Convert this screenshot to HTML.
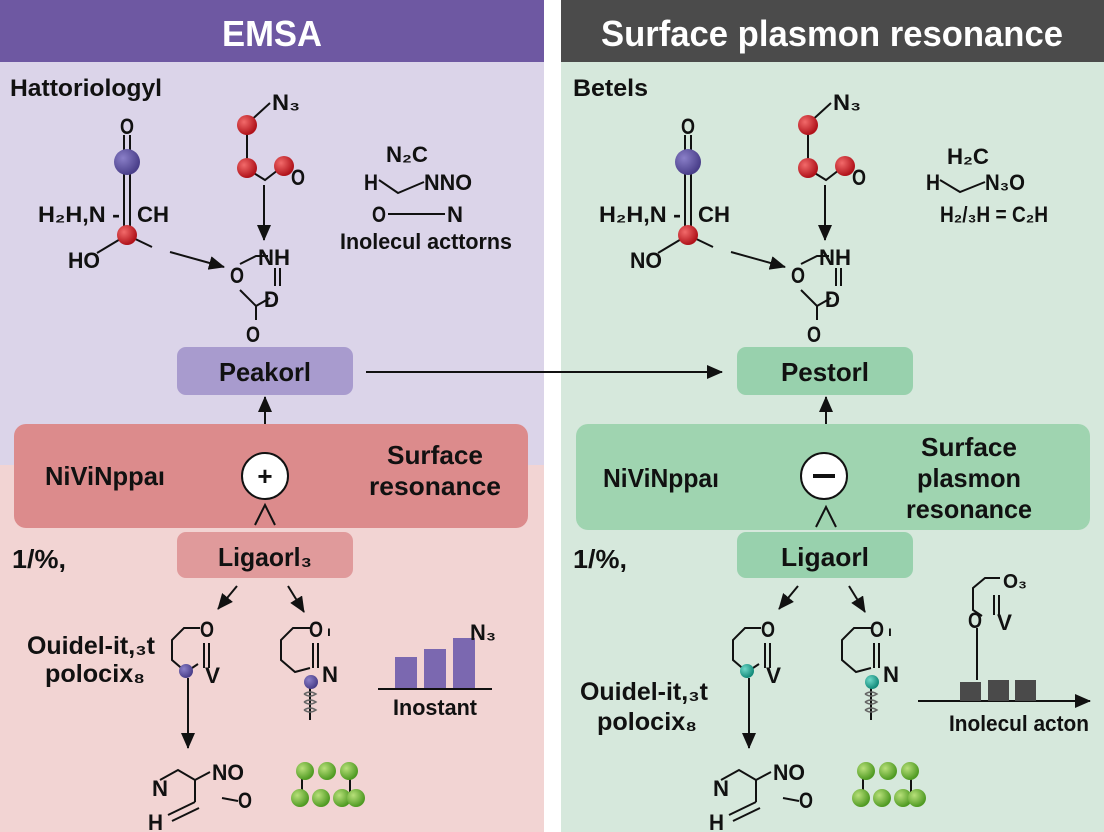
<!DOCTYPE html>
<html><head><meta charset="utf-8"><style>
html,body{margin:0;padding:0;width:1104px;height:832px;overflow:hidden;background:#fff}
svg{display:block}
text{font-family:"Liberation Sans",sans-serif;font-weight:bold;fill:#111}
</style></head><body>
<svg width="1104" height="832" viewBox="0 0 1104 832" xmlns="http://www.w3.org/2000/svg">
<defs>
<marker id="ah" markerWidth="16" markerHeight="14" refX="15" refY="7" orient="auto" markerUnits="userSpaceOnUse"><path d="M0,0 L16,7 L0,14 z" fill="#111"/></marker>
<radialGradient id="red" cx="35%" cy="35%" r="65%"><stop offset="0" stop-color="#f26a6a"/><stop offset="1" stop-color="#b0121a"/></radialGradient>
<radialGradient id="pur" cx="35%" cy="35%" r="65%"><stop offset="0" stop-color="#8a7fc8"/><stop offset="1" stop-color="#4a3f8a"/></radialGradient>
<radialGradient id="tea" cx="35%" cy="35%" r="65%"><stop offset="0" stop-color="#6fd8c8"/><stop offset="1" stop-color="#138a7a"/></radialGradient>
<radialGradient id="grn" cx="35%" cy="35%" r="65%"><stop offset="0" stop-color="#b8e07a"/><stop offset="1" stop-color="#4f9a22"/></radialGradient>
</defs>

<rect x="0" y="0" width="544" height="465" fill="#dbd4e9"/>
<rect x="0" y="465" width="544" height="367" fill="#f2d4d3"/>
<rect x="561" y="0" width="543" height="832" fill="#d6e8dc"/>
<rect x="0" y="0" width="544" height="62" fill="#6e58a2"/>
<rect x="561" y="0" width="543" height="62" fill="#4b4b4b"/>
<text x="272" y="46" text-anchor="middle" font-size="36" style="fill:#fff" textLength="100" lengthAdjust="spacingAndGlyphs">EMSA</text>
<text x="832" y="46" text-anchor="middle" font-size="36" style="fill:#fff" textLength="462" lengthAdjust="spacingAndGlyphs">Surface plasmon resonance</text>

<g id="tc">
<g stroke="#111" stroke-width="2" fill="none">
<line x1="124" y1="135" x2="124" y2="232"/><line x1="130" y1="135" x2="130" y2="232"/>
<line x1="127" y1="235" x2="97" y2="253"/><line x1="127" y1="235" x2="152" y2="247"/>
<line x1="247" y1="124" x2="270" y2="103"/><line x1="247" y1="124" x2="247" y2="168"/>
<polyline points="252,172 265,180 278,170"/>
<line x1="264" y1="185" x2="264" y2="240" marker-end="url(#ah)"/>
<line x1="170" y1="252" x2="224" y2="267" marker-end="url(#ah)"/>
<polyline points="240,264 256,256 268,256"/><line x1="275" y1="268" x2="275" y2="286"/><line x1="280" y1="268" x2="280" y2="286"/>
<polyline points="240,290 256,306 270,298"/><line x1="256" y1="306" x2="256" y2="320"/>
</g>
<circle cx="127" cy="162" r="13" fill="url(#pur)"/>
<circle cx="127" cy="235" r="10" fill="url(#red)"/>
<circle cx="247" cy="125" r="10" fill="url(#red)"/>
<circle cx="247" cy="168" r="10" fill="url(#red)"/>
<circle cx="284" cy="166" r="10" fill="url(#red)"/>
<text x="120" y="134" font-size="22" textLength="14" lengthAdjust="spacingAndGlyphs">O</text>
<text x="38" y="222" font-size="22" textLength="82" lengthAdjust="spacingAndGlyphs">H₂H,N -</text>
<text x="137" y="222" font-size="22" textLength="32" lengthAdjust="spacingAndGlyphs">CH</text>
<text x="272" y="110" font-size="22" textLength="28" lengthAdjust="spacingAndGlyphs">N₃</text>
<text x="291" y="185" font-size="22" textLength="14" lengthAdjust="spacingAndGlyphs">O</text>
<text x="258" y="265" font-size="22" textLength="32" lengthAdjust="spacingAndGlyphs">NH</text>
<text x="230" y="283" font-size="22" textLength="14" lengthAdjust="spacingAndGlyphs">O</text>
<text x="264" y="307" font-size="22" textLength="15" lengthAdjust="spacingAndGlyphs">D</text>
<text x="246" y="342" font-size="22" textLength="14" lengthAdjust="spacingAndGlyphs">O</text>
</g>
<text x="10" y="96" font-size="24" textLength="152" lengthAdjust="spacingAndGlyphs">Hattoriologyl</text>
<text x="68" y="268" font-size="22" textLength="32" lengthAdjust="spacingAndGlyphs">HO</text>
<text x="386" y="162" font-size="22" textLength="42" lengthAdjust="spacingAndGlyphs">N₂C</text>
<text x="364" y="190" font-size="22" textLength="14" lengthAdjust="spacingAndGlyphs">H</text>
<text x="424" y="190" font-size="22" textLength="48" lengthAdjust="spacingAndGlyphs">NNO</text>
<text x="372" y="222" font-size="22" textLength="14" lengthAdjust="spacingAndGlyphs">O</text>
<text x="447" y="222" font-size="22" textLength="16" lengthAdjust="spacingAndGlyphs">N</text>
<text x="340" y="249" font-size="22" textLength="172" lengthAdjust="spacingAndGlyphs">Inolecul acttorns</text>
<g stroke="#111" stroke-width="2" fill="none">
<polyline points="379,180 398,193 424,182"/>
<line x1="388" y1="214" x2="445" y2="214"/>
</g>

<rect x="177" y="347" width="176" height="48" rx="9" fill="#a89bce"/>
<text x="265" y="381" text-anchor="middle" font-size="26" textLength="92" lengthAdjust="spacingAndGlyphs">Peakorl</text>
<line x1="366" y1="372" x2="722" y2="372" stroke="#111" stroke-width="2" marker-end="url(#ah)"/>
<line x1="265" y1="440" x2="265" y2="397" stroke="#111" stroke-width="2" marker-end="url(#ah)"/>
<rect x="14" y="424" width="514" height="104" rx="12" fill="#dc8b8c"/>
<text x="45" y="485" font-size="26" textLength="120" lengthAdjust="spacingAndGlyphs">NiViNppaı</text>
<circle cx="265" cy="476" r="23" fill="#fff" stroke="#111" stroke-width="2"/>
<text x="265" y="485" text-anchor="middle" font-size="26">+</text>
<text x="435" y="464" text-anchor="middle" font-size="26" textLength="96" lengthAdjust="spacingAndGlyphs">Surface</text>
<text x="435" y="495" text-anchor="middle" font-size="26" textLength="132" lengthAdjust="spacingAndGlyphs">resonance</text>
<polyline points="255,525 265,505 275,525" stroke="#111" stroke-width="2" fill="none"/>
<rect x="177" y="532" width="176" height="46" rx="9" fill="#e09a9b"/>
<text x="265" y="566" text-anchor="middle" font-size="26" textLength="94" lengthAdjust="spacingAndGlyphs">Ligaorl₃</text>
<text x="12" y="568" font-size="26" textLength="54" lengthAdjust="spacingAndGlyphs">1/%,</text>

<g id="bc">
<g stroke="#111" stroke-width="2" fill="none">
<line x1="237" y1="586" x2="218" y2="609" marker-end="url(#ah)"/>
<line x1="288" y1="586" x2="304" y2="612" marker-end="url(#ah)"/>
<polyline points="200,628 184,628 172,640 172,660 186,672 198,664"/>
<line x1="204" y1="643" x2="204" y2="668"/><line x1="209" y1="643" x2="209" y2="668"/>
<line x1="188" y1="678" x2="188" y2="748" marker-end="url(#ah)"/>
<polyline points="310,628 293,628 281,640 281,660 295,672 310,668"/>
<line x1="313" y1="643" x2="313" y2="668"/><line x1="318" y1="643" x2="318" y2="668"/>
<line x1="310" y1="685" x2="310" y2="720"/>
<path d="M304,694 q6,-4 12,0 q-6,4 -12,0 M304,702 q6,-4 12,0 q-6,4 -12,0 M304,710 q6,-4 12,0 q-6,4 -12,0" stroke="#666" stroke-width="1.5"/>
<polyline points="160,780 178,770 195,780 210,772"/>
<line x1="195" y1="780" x2="195" y2="802"/>
<line x1="195" y1="802" x2="168" y2="815"/><line x1="199" y1="808" x2="172" y2="821"/>
<line x1="222" y1="798" x2="238" y2="801"/>
<line x1="302" y1="772" x2="302" y2="798"/><line x1="350" y1="772" x2="350" y2="798"/>
</g>
<text x="200" y="637" font-size="22" textLength="14" lengthAdjust="spacingAndGlyphs">O</text>
<text x="205" y="683" font-size="22" textLength="15" lengthAdjust="spacingAndGlyphs">V</text>
<text x="309" y="637" font-size="22" textLength="14" lengthAdjust="spacingAndGlyphs">O</text>
<text x="327" y="636" font-size="14">ı</text>
<text x="322" y="682" font-size="22" textLength="16" lengthAdjust="spacingAndGlyphs">N</text>
<text x="152" y="796" font-size="22" textLength="16" lengthAdjust="spacingAndGlyphs">N</text>
<text x="212" y="780" font-size="22" textLength="32" lengthAdjust="spacingAndGlyphs">NO</text>
<text x="238" y="808" font-size="22" textLength="14" lengthAdjust="spacingAndGlyphs">O</text>
<text x="148" y="830" font-size="22" textLength="15" lengthAdjust="spacingAndGlyphs">H</text>
<circle cx="305" cy="771" r="9" fill="url(#grn)"/><circle cx="327" cy="771" r="9" fill="url(#grn)"/><circle cx="349" cy="771" r="9" fill="url(#grn)"/>
<circle cx="300" cy="798" r="9" fill="url(#grn)"/><circle cx="321" cy="798" r="9" fill="url(#grn)"/><circle cx="342" cy="798" r="9" fill="url(#grn)"/><circle cx="356" cy="798" r="9" fill="url(#grn)"/>
</g>
<circle cx="186" cy="671" r="7" fill="url(#pur)"/>
<circle cx="311" cy="682" r="7" fill="url(#pur)"/>
<text x="27" y="654" font-size="25" textLength="128" lengthAdjust="spacingAndGlyphs">Ouidel-it,₃t</text>
<text x="45" y="682" font-size="25" textLength="100" lengthAdjust="spacingAndGlyphs">polocix₈</text>
<rect x="395" y="657" width="22" height="32" fill="#7b68b0"/>
<rect x="424" y="649" width="22" height="40" fill="#7b68b0"/>
<rect x="453" y="638" width="22" height="51" fill="#7b68b0"/>
<line x1="378" y1="689" x2="492" y2="689" stroke="#111" stroke-width="2"/>
<text x="470" y="640" font-size="22" textLength="26" lengthAdjust="spacingAndGlyphs">N₃</text>
<text x="435" y="715" text-anchor="middle" font-size="22" textLength="84" lengthAdjust="spacingAndGlyphs">Inostant</text>

<use href="#tc" x="561" y="0"/>
<text x="573" y="96" font-size="24" textLength="75" lengthAdjust="spacingAndGlyphs">Betels</text>
<text x="630" y="268" font-size="22" textLength="32" lengthAdjust="spacingAndGlyphs">NO</text>
<text x="947" y="164" font-size="22" textLength="42" lengthAdjust="spacingAndGlyphs">H₂C</text>
<text x="926" y="190" font-size="22" textLength="14" lengthAdjust="spacingAndGlyphs">H</text>
<text x="985" y="190" font-size="22" textLength="40" lengthAdjust="spacingAndGlyphs">N₃O</text>
<text x="940" y="222" font-size="22" textLength="108" lengthAdjust="spacingAndGlyphs">H₂/₃H = C₂H</text>
<polyline points="940,180 960,192 985,182" stroke="#111" stroke-width="2" fill="none"/>

<rect x="737" y="347" width="176" height="48" rx="9" fill="#98d1ad"/>
<text x="825" y="381" text-anchor="middle" font-size="26" textLength="88" lengthAdjust="spacingAndGlyphs">Pestorl</text>
<line x1="826" y1="440" x2="826" y2="397" stroke="#111" stroke-width="2" marker-end="url(#ah)"/>
<rect x="576" y="424" width="514" height="106" rx="12" fill="#9fd4b0"/>
<text x="603" y="487" font-size="26" textLength="116" lengthAdjust="spacingAndGlyphs">NiViNppaı</text>
<circle cx="824" cy="476" r="23" fill="#fff" stroke="#111" stroke-width="2"/>
<rect x="813" y="474" width="22" height="4" fill="#111"/>
<text x="969" y="456" text-anchor="middle" font-size="26" textLength="96" lengthAdjust="spacingAndGlyphs">Surface</text>
<text x="969" y="487" text-anchor="middle" font-size="26" textLength="104" lengthAdjust="spacingAndGlyphs">plasmon</text>
<text x="969" y="518" text-anchor="middle" font-size="26" textLength="126" lengthAdjust="spacingAndGlyphs">resonance</text>
<polyline points="816,527 826,507 836,527" stroke="#111" stroke-width="2" fill="none"/>
<rect x="737" y="532" width="176" height="46" rx="9" fill="#98d1ad"/>
<text x="825" y="566" text-anchor="middle" font-size="26" textLength="88" lengthAdjust="spacingAndGlyphs">Ligaorl</text>
<text x="573" y="568" font-size="26" textLength="54" lengthAdjust="spacingAndGlyphs">1/%,</text>

<use href="#bc" x="561" y="0"/>
<circle cx="747" cy="671" r="7" fill="url(#tea)"/>
<circle cx="872" cy="682" r="7" fill="url(#tea)"/>
<text x="580" y="700" font-size="25" textLength="128" lengthAdjust="spacingAndGlyphs">Ouidel-it,₃t</text>
<text x="597" y="730" font-size="25" textLength="100" lengthAdjust="spacingAndGlyphs">polocix₈</text>
<g stroke="#111" stroke-width="2" fill="none">
<polyline points="1000,578 985,578 973,588 973,610 982,616"/>
<line x1="994" y1="595" x2="994" y2="615"/><line x1="999" y1="595" x2="999" y2="615"/>
<line x1="977" y1="628" x2="977" y2="680"/>
<line x1="918" y1="701" x2="1090" y2="701" marker-end="url(#ah)"/>
</g>
<text x="1003" y="588" font-size="20" textLength="24" lengthAdjust="spacingAndGlyphs">O₃</text>
<text x="968" y="628" font-size="22" textLength="14" lengthAdjust="spacingAndGlyphs">O</text>
<text x="997" y="630" font-size="22" textLength="15" lengthAdjust="spacingAndGlyphs">V</text>
<rect x="960" y="682" width="21" height="19" fill="#4a4a4a"/>
<rect x="988" y="680" width="21" height="21" fill="#4a4a4a"/>
<rect x="1015" y="680" width="21" height="21" fill="#4a4a4a"/>
<text x="1019" y="731" text-anchor="middle" font-size="22" textLength="140" lengthAdjust="spacingAndGlyphs">Inolecul acton</text>
</svg>
</body></html>
